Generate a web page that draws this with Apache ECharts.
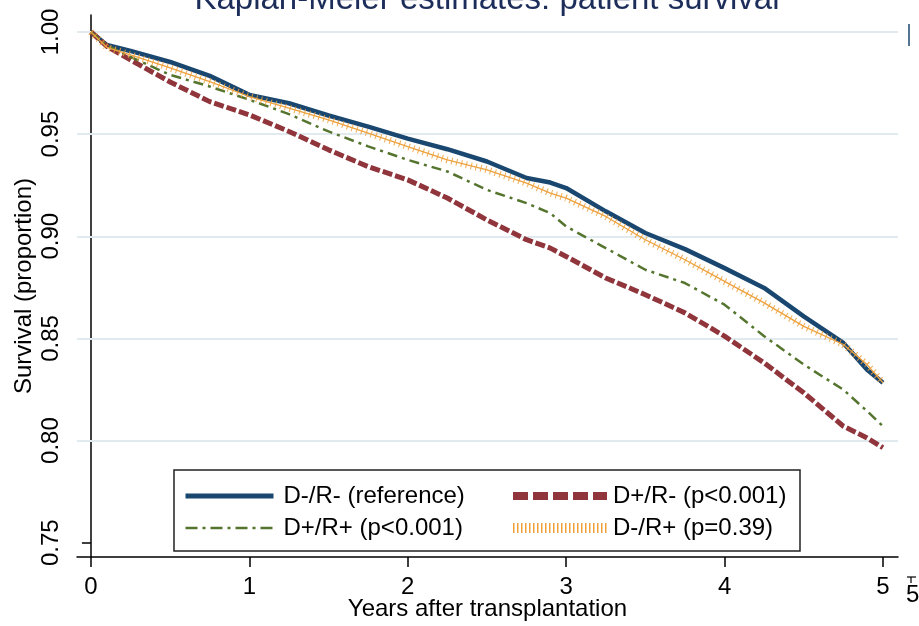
<!DOCTYPE html>
<html>
<head>
<meta charset="utf-8">
<script src="https://cdn.jsdelivr.net/npm/echarts@6/dist/echarts.min.js"></script>
<style>html,body{margin:0;padding:0;background:#fff;}#c{width:919px;height:626px;}</style>
</head>
<body>
<div id="c"></div>
<script>
const years = [0, 0.1, 0.25, 0.5, 0.75, 1, 1.25, 1.5, 1.75, 2, 2.25, 2.5, 2.75, 2.9, 3, 3.25, 3.5, 3.75, 4, 4.25, 4.5, 4.75, 4.9, 5];
const dmrm = [1.000, 0.9936, 0.9907, 0.9853, 0.9785, 0.9692, 0.9651, 0.9591, 0.9537, 0.9478, 0.9426, 0.9366, 0.9285, 0.9263, 0.9236, 0.9122, 0.9016, 0.8937, 0.8844, 0.8747, 0.8608, 0.8478, 0.8347, 0.8283];
const dprm = [1.000, 0.9930, 0.9863, 0.9755, 0.9659, 0.9594, 0.9513, 0.9423, 0.9341, 0.9276, 0.9187, 0.9080, 0.8983, 0.8942, 0.8901, 0.8796, 0.8714, 0.8625, 0.8511, 0.8380, 0.8234, 0.8070, 0.8013, 0.7965];
const dprp = [1.000, 0.9935, 0.9878, 0.9790, 0.9733, 0.9668, 0.9598, 0.9513, 0.9440, 0.9374, 0.9317, 0.9227, 0.9162, 0.9113, 0.9048, 0.8942, 0.8836, 0.8771, 0.8665, 0.8511, 0.8372, 0.8249, 0.8144, 0.8070];
const dmrp = [1.000, 0.9925, 0.9888, 0.9824, 0.9757, 0.9684, 0.9627, 0.9570, 0.9505, 0.9439, 0.9374, 0.9325, 0.9260, 0.9211, 0.9187, 0.9097, 0.8983, 0.8885, 0.8779, 0.8674, 0.8559, 0.8470, 0.8372, 0.8283];
const names = ['D-/R- (reference)', 'D+/R- (p<0.001)', 'D+/R+ (p<0.001)', 'D-/R+ (p=0.39)'];
const xTicks = [0, 1, 2, 3, 4, 5];
const yTicks = [0.75, 0.80, 0.85, 0.90, 0.95, 1.00];
const yGrid = [0.80, 0.85, 0.90, 0.95, 1.00];

const C = {blue:'#1a476f', red:'#90353b', green:'#55752f', orange:'#eda23e'};
const pair = arr => years.map((t,i)=>[t, arr[i]]);
const FONT = 'Liberation Sans, Arial, sans-serif';

const chart = echarts.init(document.getElementById('c'), null, {renderer:'canvas'});
chart.setOption({
  animation:false,
  backgroundColor:'#fff',
  grid:{left:77, right:21, top:15, bottom:69, containLabel:false, outerBoundsMode:'none'},
  xAxis:{
    type:'value', min:-0.088, max:5.095,
    axisLine:{show:true, lineStyle:{color:'#000', width:1.5}},
    axisTick:{show:true, length:10, lineStyle:{color:'#000', width:1.5}, customValues:xTicks},
    axisLabel:{show:true, customValues:xTicks, margin:18, fontSize:24, color:'#000', fontFamily:FONT, formatter:v=>String(v)},
    splitLine:{show:false},
    name:'Years after transplantation', nameLocation:'middle', nameGap:40, nameMoveOverlap:false,
    nameTextStyle:{fontSize:24, color:'#000', fontFamily:FONT}
  },
  yAxis:{
    type:'value', min:0.743, max:1.0083,
    axisLine:{show:true, lineStyle:{color:'#000', width:1.5}},
    axisTick:{show:true, length:9, lineStyle:{color:'#000', width:1.5}, customValues:yTicks},
    axisLabel:{show:true, customValues:yTicks, rotate:90, margin:14, fontSize:24, color:'#000', fontFamily:FONT, formatter:v=>v.toFixed(2)},
    splitLine:{show:false},
    name:'Survival (proportion)', nameLocation:'middle', nameGap:41, nameMoveOverlap:false,
    nameTextStyle:{fontSize:24, color:'#000', fontFamily:FONT}
  },
  legend:[
    {orient:'vertical', left:183, top:484, padding:0, itemWidth:88, itemHeight:14, itemGap:8,
     itemStyle:{opacity:0},
     textStyle:{fontSize:24, lineHeight:24, color:'#000', fontFamily:FONT, padding:[0,0,0,5]},
     data:[
       {name:names[0], lineStyle:{width:5, color:C.blue, type:'solid'}},
       {name:names[2], lineStyle:{width:2.5, color:C.green, type:[12,5,3,5]}}
     ]},
    {orient:'vertical', left:508, top:484, padding:0, itemWidth:94, itemHeight:14, itemGap:8,
     itemStyle:{opacity:0},
     textStyle:{fontSize:24, lineHeight:24, color:'#000', fontFamily:FONT, padding:[0,0,0,1]},
     data:[
       {name:names[1], lineStyle:{width:8, color:C.red, type:[15,5]}},
       {name:names[3], lineStyle:{width:10, color:C.orange, type:[1.5,2.5], opacity:1}}
     ]}
  ],
  graphic:[
    {type:'rect', z:3, shape:{x:174, y:470, width:626, height:81}, style:{fill:'#fff', stroke:'#222', lineWidth:1.5}},
    {type:'text', z:5, style:{text:'Kaplan-Meier estimates: patient survival', x:487, y:0, textAlign:'center', textVerticalAlign:'middle', fontSize:33, fill:'#1c2d5a', fontFamily:FONT}},
    {type:'text', z:5, style:{text:'5', x:906, y:595, textAlign:'left', textVerticalAlign:'middle', fontSize:24, fill:'#000', fontFamily:FONT}},
    {type:'line', z:5, shape:{x1:907, y1:577, x2:916, y2:577}, style:{stroke:'#000', lineWidth:1.2}},
    {type:'line', z:5, shape:{x1:911, y1:577, x2:911, y2:583}, style:{stroke:'#000', lineWidth:1.2}},
    {type:'line', z:5, shape:{x1:909, y1:24, x2:909, y2:46}, style:{stroke:'#1a476f', lineWidth:1.5}}
  ],
  series:[
    {name:names[0], type:'line', data:pair(dmrm), symbol:'none', z:2,
     lineStyle:{color:C.blue, width:4.5}, itemStyle:{color:C.blue},
     markLine:{silent:true, symbol:'none', label:{show:false}, z:1,
       lineStyle:{color:'#e1eaee', width:2, type:'solid'},
       data:yGrid.map(v=>({yAxis:v}))}},
    {name:names[1], type:'line', data:pair(dprm), symbol:'none', z:3,
     lineStyle:{color:C.red, width:5, type:[10,3]}, itemStyle:{color:C.red}},
    {name:names[2], type:'line', data:pair(dprp), symbol:'none', z:4,
     lineStyle:{color:C.green, width:2.5, type:[10,5,3,5]}, itemStyle:{color:C.green}},
    {name:names[3], type:'line', data:pair(dmrp), symbol:'none', z:5,
     lineStyle:{color:C.orange, width:1.3}, itemStyle:{color:C.orange}},
    {name:'orange-ticks', type:'line', data:pair(dmrp), symbol:'none', z:5,
     lineStyle:{color:C.orange, width:7, type:[1,4], opacity:0.9}, itemStyle:{color:C.orange}}
  ]
});
</script>
</body>
</html>
